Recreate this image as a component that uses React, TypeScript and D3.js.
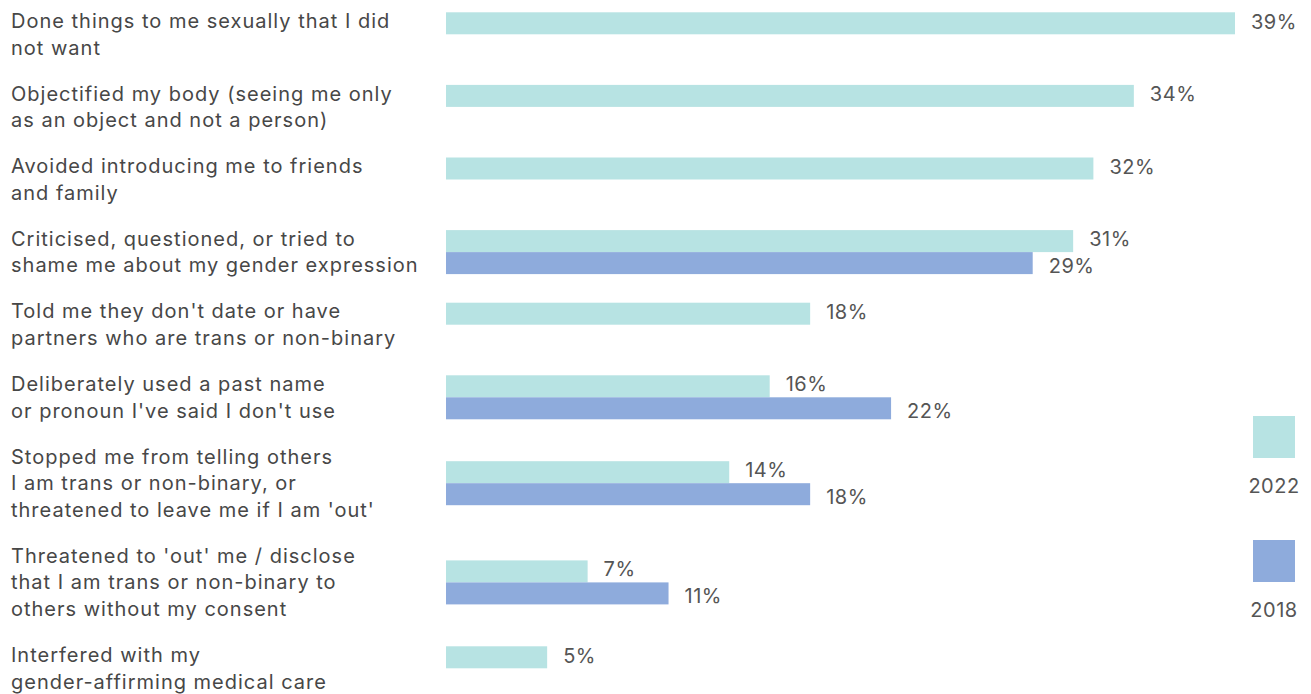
import React from "react";
import * as d3 from "d3";

const categories: string[][] = [
  ["Done things to me sexually that I did", "not want"],
  ["Objectified my body (seeing me only", "as an object and not a person)"],
  ["Avoided introducing me to friends", "and family"],
  ["Criticised, questioned, or tried to", "shame me about my gender expression"],
  ["Told me they don't date or have", "partners who are trans or non-binary"],
  ["Deliberately used a past name", "or pronoun I've said I don't use"],
  ["Stopped me from telling others", "I am trans or non-binary, or", "threatened to leave me if I am 'out'"],
  ["Threatened to 'out' me / disclose", "that I am trans or non-binary to", "others without my consent"],
  ["Interfered with my", "gender-affirming medical care"],
];
const values2022: (number | null)[] = [39, 34, 32, 31, 18, 16, 14, 7, 5];
const values2018: (number | null)[] = [null, null, null, 29, null, 22, 18, 11, null];
const seriesNames = ["2022", "2018"];
const colors = ["#b7e3e3", "#8eabdc"];

const W = 1311;
const H = 694;
const FONT = "Inter, 'Work Sans', sans-serif";
const LINE_H = 26.6;
const ROW_PAD = 19.4;
const LS = 1.0;

export default function App() {
  const x = d3.scaleLinear().domain([0, 39]).range([446, 1235]);
  const rowHeights = categories.map((c) => c.length * LINE_H + ROW_PAD);
  const starts = [0, ...Array.from(d3.cumsum(rowHeights))];
  const yTop = -2;
  const rowCenter = (i: number) => yTop + starts[i] + rowHeights[i] / 2;
  const barH = 22;
  const inner = d3.scaleBand().domain(seriesNames).range([-barH, barH]).padding(0);
  const series = [values2022, values2018];

  return (
    <div style={{ position: "absolute", left: 0, top: 0 }}>
      <svg width={W} height={H} style={{ display: "block" }} fontFamily={FONT}>
        {categories.map((lines, i) => {
          const c = rowCenter(i);
          const first = c - ((lines.length - 1) * LINE_H) / 2;
          return (
            <text key={"l" + i} x={11} fill="#474747" fontSize={20} letterSpacing={LS} dominantBaseline="central">
              {lines.map((ln, j) => (
                <tspan key={j} x={11} y={first + j * LINE_H}>
                  {ln}
                </tspan>
              ))}
            </text>
          );
        })}
        {series.map((vals, s) =>
          vals.map((v, i) => {
            if (v == null) return null;
            const y0 = rowCenter(i) + (inner(seriesNames[s]) as number);
            const paired = values2018[i] != null;
            const dy = paired ? (s === 0 ? -2.5 : 2.5) : -1.5;
            return (
              <g key={s + "-" + i}>
                <rect x={x(0)} y={y0} width={x(v) - x(0)} height={inner.bandwidth()} fill={colors[s]} />
                <text
                  x={x(v) + 16}
                  y={y0 + inner.bandwidth() / 2 + dy}
                  dominantBaseline="central"
                  fontSize={20}
                  letterSpacing={LS * 0.5}
                  fill="#555"
                >
                  {v}%
                </text>
              </g>
            );
          })
        )}
        {seriesNames.map((n, s) => {
          const top = 416 + s * 124;
          return (
            <g key={n}>
              <rect x={1253} y={top} width={42} height={42} fill={colors[s]} />
              <text x={1274} y={top + 70} textAnchor="middle" dominantBaseline="central" fontSize={20} letterSpacing={LS * 0.5} fill="#555">
                {n}
              </text>
            </g>
          );
        })}
      </svg>
    </div>
  );
}
